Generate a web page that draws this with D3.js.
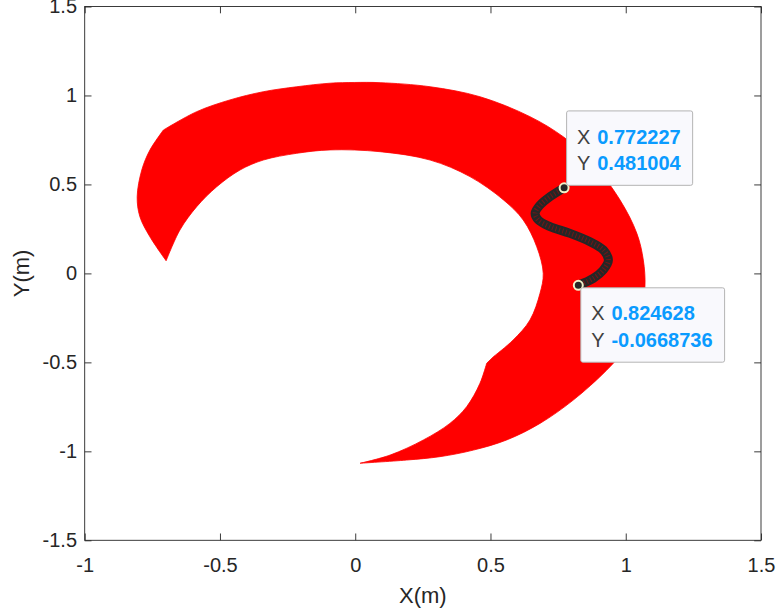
<!DOCTYPE html>
<html>
<head>
<meta charset="utf-8">
<script src="https://cdn.jsdelivr.net/npm/d3@7"></script>
<style>
  body { margin: 0; background: #fff; }
  text { font-family: "Liberation Sans", Arial, sans-serif; }
</style>
</head>
<body>
<svg id="chart" width="777" height="613"></svg>
<script>
// tick values
var xTicks = [-1, -0.5, 0, 0.5, 1, 1.5];
var yTicks = [-1.5, -1, -0.5, 0, 0.5, 1, 1.5];

// swept region boundary (x, y in metres)
var outerEdge = [
  [-0.709, 0.806], [-0.586, 0.909], [-0.463, 0.975], [-0.340, 1.021], [-0.216, 1.049],
  [-0.093, 1.069], [-0.004, 1.073], [0.092, 1.072], [0.277, 1.049], [0.461, 0.993],
  [0.646, 0.881], [0.769, 0.768], [0.868, 0.637], [0.979, 0.412], [1.041, 0.225],
  [1.065, 0.075], [1.071, -0.075], [1.053, -0.262], [1.004, -0.412], [0.930, -0.543],
  [0.806, -0.712], [0.683, -0.843], [0.560, -0.936], [0.437, -0.993], [0.313, -1.030],
  [0.190, -1.049], [0.018, -1.067]
];
var innerLower = [
  [0.018, -1.067], [0.129, -1.021], [0.252, -0.936], [0.350, -0.843], [0.412, -0.749],
  [0.461, -0.618], [0.486, -0.505]
];
var innerUpper = [
  [0.511, -0.468], [0.584, -0.374], [0.646, -0.262], [0.683, -0.112], [0.695, 0.000],
  [0.671, 0.150], [0.621, 0.300], [0.548, 0.413], [0.424, 0.544], [0.277, 0.637],
  [0.092, 0.684], [-0.093, 0.694], [-0.216, 0.675], [-0.340, 0.637],
  [-0.426, 0.581], [-0.512, 0.487], [-0.586, 0.375], [-0.648, 0.244], [-0.699, 0.071]
];
var tailEdge = [
  [-0.699, 0.071], [-0.759, 0.206], [-0.796, 0.319], [-0.806, 0.431], [-0.789, 0.581],
  [-0.759, 0.693], [-0.709, 0.806]
];

// robot body (S curve)
var snakeCurve = [
  [0.772227, 0.481004], [0.720, 0.431], [0.683, 0.384], [0.665, 0.338], [0.677, 0.300],
  [0.720, 0.263], [0.794, 0.225], [0.868, 0.178], [0.917, 0.132], [0.936, 0.075],
  [0.917, 0.019], [0.880, -0.028], [0.824628, -0.0668736]
];

// data tips
var tipX = [0.772227, 0.824628];
var tipY = [0.481004, -0.0668736];
var tipText = ["0.772227", "0.824628"];
var tipTextY = ["0.481004", "-0.0668736"];
var tipAbove = [true, false];

var margin = {top: 6.5, right: 16, bottom: 72.7, left: 84.7},
    width = 777 - margin.left - margin.right,
    height = 613 - margin.top - margin.bottom;

var svg = d3.select("#chart")
  .append("g")
    .attr("transform", "translate(" + margin.left + "," + margin.top + ")");

var x = d3.scaleLinear().domain([-1, 1.5]).range([0, width]);
var y = d3.scaleLinear().domain([-1.5, 1.5]).range([height, 0]);

var axisColor = "#262626";
var fmt = function(d) { return String(d); };

// red region
var line = d3.line()
  .x(function(d) { return x(d[0]); })
  .y(function(d) { return y(d[1]); })
  .curve(d3.curveCatmullRom);

var regionPath = line(outerEdge)
  + line(innerLower).replace(/^M/, "L")
  + line(innerUpper).replace(/^M/, "L")
  + line(tailEdge).replace(/^M/, "L") + "Z";

svg.append("path")
  .attr("d", regionPath)
  .attr("fill", "#ff0000")
  .attr("stroke", "#ff0000")
  .attr("stroke-width", 0.8);

// axes
var xAxis = svg.append("g")
  .attr("transform", "translate(0," + height + ")")
  .call(d3.axisBottom(x).tickValues(xTicks).tickFormat(fmt)
    .tickSizeInner(-6.8).tickSizeOuter(0).tickPadding(17.5));
var xAxisTop = svg.append("g")
  .call(d3.axisTop(x).tickValues(xTicks).tickFormat("")
    .tickSizeInner(-6.8).tickSizeOuter(0));
var yAxis = svg.append("g")
  .call(d3.axisLeft(y).tickValues(yTicks).tickFormat(fmt)
    .tickSizeInner(-6.8).tickSizeOuter(0).tickPadding(7.7));
var yAxisRight = svg.append("g")
  .attr("transform", "translate(" + width + ",0)")
  .call(d3.axisRight(y).tickValues(yTicks).tickFormat("")
    .tickSizeInner(-6.8).tickSizeOuter(0));

svg.selectAll(".domain").remove();
svg.selectAll(".tick line").attr("stroke", axisColor).attr("stroke-width", 0.9);
svg.selectAll(".tick text")
  .attr("fill", axisColor)
  .attr("font-size", "20px");

svg.append("rect")
  .attr("width", width)
  .attr("height", height)
  .attr("fill", "none")
  .attr("stroke", axisColor)
  .attr("stroke-width", 0.9);

// axis labels
svg.append("text")
  .attr("x", x(0.25))
  .attr("y", height + 62.5)
  .attr("text-anchor", "middle")
  .attr("font-size", "22px")
  .attr("fill", axisColor)
  .text("X(m)");

svg.append("text")
  .attr("transform", "translate(" + (29 - margin.left) + "," + y(0) + ") rotate(-90)")
  .attr("text-anchor", "middle")
  .attr("font-size", "22px")
  .attr("fill", axisColor)
  .text("Y(m)");

// S curve
var bodyLine = d3.line()
  .x(function(d) { return x(d[0]); })
  .y(function(d) { return y(d[1]); })
  .curve(d3.curveCatmullRom);

svg.append("path")
  .attr("d", bodyLine(snakeCurve))
  .attr("fill", "none")
  .attr("stroke", "#262626")
  .attr("stroke-width", 9)
  .attr("stroke-linecap", "round");

svg.append("path")
  .attr("d", bodyLine(snakeCurve))
  .attr("fill", "none")
  .attr("stroke", "#e00000")
  .attr("stroke-width", 5)
  .attr("stroke-dasharray", "1,2.5")
  .attr("opacity", 0.4);

// data tip markers
svg.selectAll("circle.tip")
  .data(tipX)
  .enter()
  .append("circle")
    .attr("class", "tip")
    .attr("cx", function(d) { return x(d); })
    .attr("cy", function(d, i) { return y(tipY[i]); })
    .attr("r", 4.5)
    .attr("fill", "#262626")
    .attr("stroke", "#f0f0c8")
    .attr("stroke-width", 2);

// data tip boxes
tipX.forEach(function(d, i) {
  var px = x(d), py = y(tipY[i]);
  var boxH = 74.4;
  var left = px + 2.5;
  var top = tipAbove[i] ? py - 2.5 - boxH : py + 2.5;
  var g = svg.append("g").attr("transform", "translate(" + left + "," + top + ")");
  var rect = g.append("rect")
    .attr("height", boxH)
    .attr("rx", 2)
    .attr("fill", "#f9f9fd")
    .attr("stroke", "#b4b4b4")
    .attr("stroke-width", 1);
  g.append("text").attr("x", 10.4).attr("y", 32.6)
    .attr("font-size", "20px").attr("fill", "#404040").text("X");
  g.append("text").attr("x", 10.4).attr("y", 59.3)
    .attr("font-size", "20px").attr("fill", "#404040").text("Y");
  var t1 = g.append("text").attr("x", 30.6).attr("y", 32.6)
    .attr("font-size", "20px").attr("font-weight", "bold").attr("fill", "#0a9bff")
    .text(tipText[i]);
  var t2 = g.append("text").attr("x", 30.6).attr("y", 59.3)
    .attr("font-size", "20px").attr("font-weight", "bold").attr("fill", "#0a9bff")
    .text(tipTextY[i]);
  var w = Math.max(t1.node().getComputedTextLength(), t2.node().getComputedTextLength());
  rect.attr("width", 30.6 + w + 12);
});
</script>
</body>
</html>
